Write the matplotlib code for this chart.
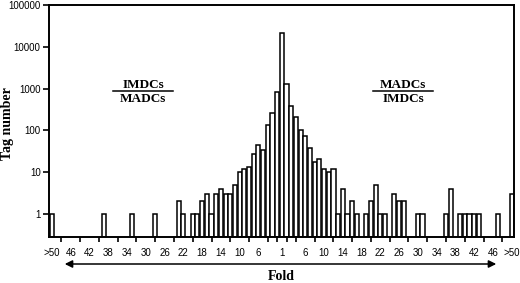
import matplotlib
matplotlib.use("Agg")
import matplotlib.pyplot as plt
from matplotlib.lines import Line2D
from matplotlib.patches import FancyArrowPatch

# ---- data (tag counts by fold difference) ----
fold_names = [str(f) for f in range(2, 50)] + [">50"]
# IMDCs/MADCs side, folds 2 .. 49, >50
left_counts = [820, 265, 134, 34, 45, 28, 13, 12, 10, 5, 3, 3, 4, 3, 1, 3, 2, 1, 1, 0,
               1, 2, 0, 0, 0, 0, 1, 0, 0, 0, 0, 1, 0, 0, 0, 0, 0, 1, 0, 0,
               0, 0, 0, 0, 0, 0, 0, 0, 1]
center_count = 21000  # fold 1
# MADCs/IMDCs side, folds 2 .. 49, >50
right_counts = [1290, 385, 206, 100, 72, 37, 18, 21, 12, 10, 12, 1, 4, 1, 2, 1, 0, 1, 2, 5,
                1, 1, 0, 3, 2, 2, 0, 0, 1, 1, 0, 0, 0, 0, 1, 4, 0, 1, 1, 1,
                1, 1, 0, 0, 0, 1, 0, 0, 3]
left_tick_labels = [">50", "46", "42", "38", "34", "30", "26", "22", "18", "14", "10", "6"]
right_tick_labels = ["6", "10", "14", "18", "22", "26", "30", "34", "38", "42", "46", ">50"]
y_ticks = [1, 10, 100, 1000, 10000, 100000]

# ---- build category order ----
n_side = len(fold_names)
labels = list(reversed(fold_names)) + ["1"] + fold_names
counts = list(reversed(left_counts)) + [center_count] + right_counts
xs = list(range(len(labels)))

fig = plt.figure(figsize=(5.2, 2.83), dpi=100)
ax = fig.add_axes([49/520, 46/283, (514-49)/520, (278-46)/283])

ymin = 0.282
bx = [x for x, c in zip(xs, counts) if c > 0]
bh = [c - ymin for c in counts if c > 0]
ax.bar(bx, bh, bottom=ymin, width=0.88, facecolor="white", edgecolor="black",
       linewidth=1.1, zorder=2)

ax.set_yscale("log")
ax.set_ylim(ymin, 100000)
ax.set_xlim(-0.65, len(labels) - 1 + 0.5)

ax.set_yticks(y_ticks)
ax.set_yticklabels([str(v) for v in y_ticks])
ax.yaxis.set_minor_locator(matplotlib.ticker.NullLocator())

# x ticks: minor ticks every 2 categories, labels at chosen folds
ax.set_xticks(list(range(0, len(labels), 2)), minor=True)
pos = []
lab = []
for t in left_tick_labels:
    pos.append(n_side - fold_names.index(t) - 1)
    lab.append(t)
pos.append(n_side)
lab.append("1")
for t in right_tick_labels:
    pos.append(n_side + 1 + fold_names.index(t))
    lab.append(t)
ax.set_xticks(pos)
ax.set_xticklabels(lab)

tfont = {"family": "Liberation Sans", "size": 7}
for t in ax.get_xticklabels() + ax.get_yticklabels():
    t.set_fontfamily("Liberation Sans")
    t.set_fontsize(7)

ax.tick_params(axis="x", which="major", length=0, pad=8)
ax.tick_params(axis="x", which="minor", length=3.5, width=1.2, direction="out")
ax.tick_params(axis="y", which="major", length=4, width=1.2, direction="out", pad=2)

for s in ax.spines.values():
    s.set_linewidth(1.4)

# axis titles
fig.text(8/520, 1 - 124/283, "Tag number", rotation=90, ha="center", va="center",
         family="Liberation Serif", fontweight="bold", fontsize=10)
fig.text(281/520, 1 - 277/283, "Fold", ha="center", va="center",
         family="Liberation Serif", fontweight="bold", fontsize=10)

# double arrow
arr = FancyArrowPatch((62/520, 1 - 264/283), (499/520, 1 - 264/283),
                      transform=fig.transFigure, arrowstyle="<|-|>",
                      mutation_scale=11, linewidth=1.1, color="black")
fig.patches.append(arr)

# fraction annotations
def fraction(cx, top, bottom, x0, x1):
    fig.text(cx/520, 1 - 84.5/283, top, ha="center", va="center",
             family="Liberation Serif", fontweight="bold", fontsize=9.5)
    fig.text(cx/520, 1 - 99/283, bottom, ha="center", va="center",
             family="Liberation Serif", fontweight="bold", fontsize=9.5)
    fig.lines.append(Line2D([x0/520, x1/520], [1 - 90.7/283, 1 - 90.7/283],
                            transform=fig.transFigure, color="black", linewidth=1.1))

fraction(143, "IMDCs", "MADCs", 113, 173)
fraction(403, "MADCs", "IMDCs", 373, 433)

fig.savefig("out.png", dpi=100)
